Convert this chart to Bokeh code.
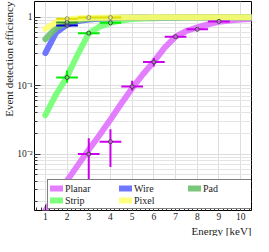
from bokeh.plotting import figure
from bokeh.models import (Legend, LegendItem, FixedTicker, Range1d, Title)
from bokeh.embed import file_html
from bokeh.resources import INLINE

# ---------------- data ----------------
# model curves
curve_x = [1, 1.5, 2, 2.5, 3, 3.5, 4, 4.5, 5, 5.5, 6, 6.5, 7, 7.5, 8, 8.5, 9, 9.5, 10, 10.5]
planar_curve = [0.0015, 0.0025, 0.0041, 0.0069, 0.0116, 0.019, 0.032, 0.055, 0.092, 0.147,
                0.225, 0.36, 0.52, 0.63, 0.71, 0.79, 0.86, 0.90, 0.93, 0.94]
strip_curve = [0.037, 0.075, 0.135, 0.29, 0.58, 0.73, 0.83, 0.90, 0.94, 0.96,
               0.97, 0.98, 0.985, 0.99, 0.99, 0.995, 0.995, 1.0, 1.0, 1.0]
wire_curve = [0.30, 0.60, 0.78, 0.88, 0.93, 0.95, 0.97, 0.98, 0.985, 0.99,
              0.99, 0.995, 0.995, 1.0, 1.0, 1.0, 1.0, 1.0, 1.0, 1.0]
pad_curve = [0.48, 0.70, 0.84, 0.91, 0.95, 0.97, 0.98, 0.985, 0.99, 0.99,
             0.995, 0.995, 1.0, 1.0, 1.0, 1.0, 1.0, 1.0, 1.0, 1.0]
pixel_curve = [0.68, 0.85, 0.93, 0.96, 0.98, 0.985, 0.99, 0.99, 0.995, 0.995,
               1.0, 1.0, 1.0, 1.0, 1.0, 1.0, 1.0, 1.0, 1.0, 1.0]

# measurements
planar_x = [3, 4, 5, 6, 7, 8, 9]
planar_y = [0.0100, 0.0152, 0.097, 0.222, 0.52, 0.667, 0.87]
planar_lo = [0.002, 0.0065, 0.085, 0.19, 0.49, 0.64, 0.85]
planar_hi = [0.017, 0.023, 0.118, 0.255, 0.55, 0.69, 0.89]

strip_x = [2, 3, 4]
strip_y = [0.132, 0.586, 0.83]
strip_lo = [0.11, 0.56, 0.81]
strip_hi = [0.167, 0.61, 0.85]

wire_x = [2]
wire_y = [0.76]
pad_x = [2]
pad_y = [0.84]
pixel_x = [2, 3, 4]
pixel_y = [0.95, 0.99, 0.99]

bin_half = 0.5

# ---------------- figure ----------------
FONT = "Liberation Serif"
p = figure(width=253, height=236, output_backend="svg", toolbar_location=None,
           y_axis_type="log", x_range=Range1d(0.5, 10.5), y_range=Range1d(0.0015, 1.7),
           min_border_left=0, min_border_right=2, min_border_top=1, min_border_bottom=0)
p.outline_line_color = "black"
p.outline_line_width = 1

colors = {
    "Planar": "#e070ff",
    "Wire": "#6068ff",
    "Strip": "#70ff70",
    "Pixel": "#ffff70",
    "Pad": "#6cc06c",
}

renderers = {}
for name, ys in [("Planar", planar_curve), ("Strip", strip_curve), ("Wire", wire_curve),
                 ("Pad", pad_curve), ("Pixel", pixel_curve)]:
    renderers[name] = p.line(curve_x, ys, line_color=colors[name], line_width=6,
                             line_alpha=0.9, line_cap="round")

def points(xs, ys, color, lo=None, hi=None, mk="#444444"):
    p.segment([x - bin_half for x in xs], ys, [x + bin_half for x in xs], ys,
              line_color=color, line_width=2)
    if lo is not None:
        p.segment(xs, lo, xs, hi, line_color=color, line_width=2)
    p.scatter(xs, ys, marker="circle", size=4, fill_color="white", fill_alpha=0.3,
              line_color=mk, line_width=1)

points(planar_x, planar_y, "#cc00ee", planar_lo, planar_hi)
points(strip_x, strip_y, "#00ee00", strip_lo, strip_hi)
points(wire_x, wire_y, "#0000cc")
points(pad_x, pad_y, "#339933")
points(pixel_x, pixel_y, "#dddd00", mk="#888888")

# axes
p.xaxis.ticker = FixedTicker(ticks=list(range(1, 11)),
                             minor_ticks=[i / 5 for i in range(3, 53)])
p.yaxis.ticker = FixedTicker(ticks=[0.01, 0.1, 1],
                             minor_ticks=[m * d for d in (0.001, 0.01, 0.1, 1) for m in range(2, 10)])
p.yaxis.major_label_overrides = {0.01: "10\u207b\u00b2", 0.1: "10\u207b\u00b9", 1: "1"}
for ax in (p.xaxis, p.yaxis):
    ax.axis_label = None
    ax.axis_label_standoff = 0
    ax.axis_line_color = None
    ax.major_tick_in = 6
    ax.major_tick_out = 0
    ax.minor_tick_in = 3
    ax.minor_tick_out = 0
    ax.major_tick_line_color = "#333333"
    ax.minor_tick_line_color = "#333333"
    ax.major_label_text_font = FONT
    ax.major_label_text_font_size = "9.5px"
    ax.major_label_text_color = "#222222"
    ax.major_label_standoff = 2

xt = Title(text="Energy [keV]", align="right", text_font=FONT, text_font_size="11px",
           text_font_style="normal", text_color="#222222", standoff=0, offset=0)
yt = Title(text="Event detection efficiency", align="right", text_font=FONT,
           text_font_size="11px", text_font_style="normal", text_color="#222222",
           standoff=0, offset=0)
p.add_layout(xt, "below")
p.add_layout(yt, "left")

p.xgrid.grid_line_color = "#dddddd"
p.ygrid.grid_line_color = "#dddddd"
p.ygrid.minor_grid_line_color = "#e4e4e4"

legend = Legend(items=[
    LegendItem(label="Planar", renderers=[renderers["Planar"]]),
    LegendItem(label="Wire", renderers=[renderers["Wire"]]),
    LegendItem(label="Pad", renderers=[renderers["Pad"]]),
    LegendItem(label="Strip", renderers=[renderers["Strip"]]),
    LegendItem(label="Pixel", renderers=[renderers["Pixel"]]),
], location=(13, 1), orientation="horizontal", nrows=2)
legend.label_text_font = FONT
legend.label_text_font_size = "10px"
legend.label_text_color = "#222222"
legend.glyph_width = 13
legend.glyph_height = 8
legend.label_width = 54
legend.label_height = 12
legend.label_standoff = 2
legend.padding = 2
legend.spacing = 0
legend.margin = 0
legend.border_line_color = "black"
legend.border_line_width = 1
legend.background_fill_alpha = 1
p.add_layout(legend)

open("out.html", "w").write(file_html(p, INLINE))
